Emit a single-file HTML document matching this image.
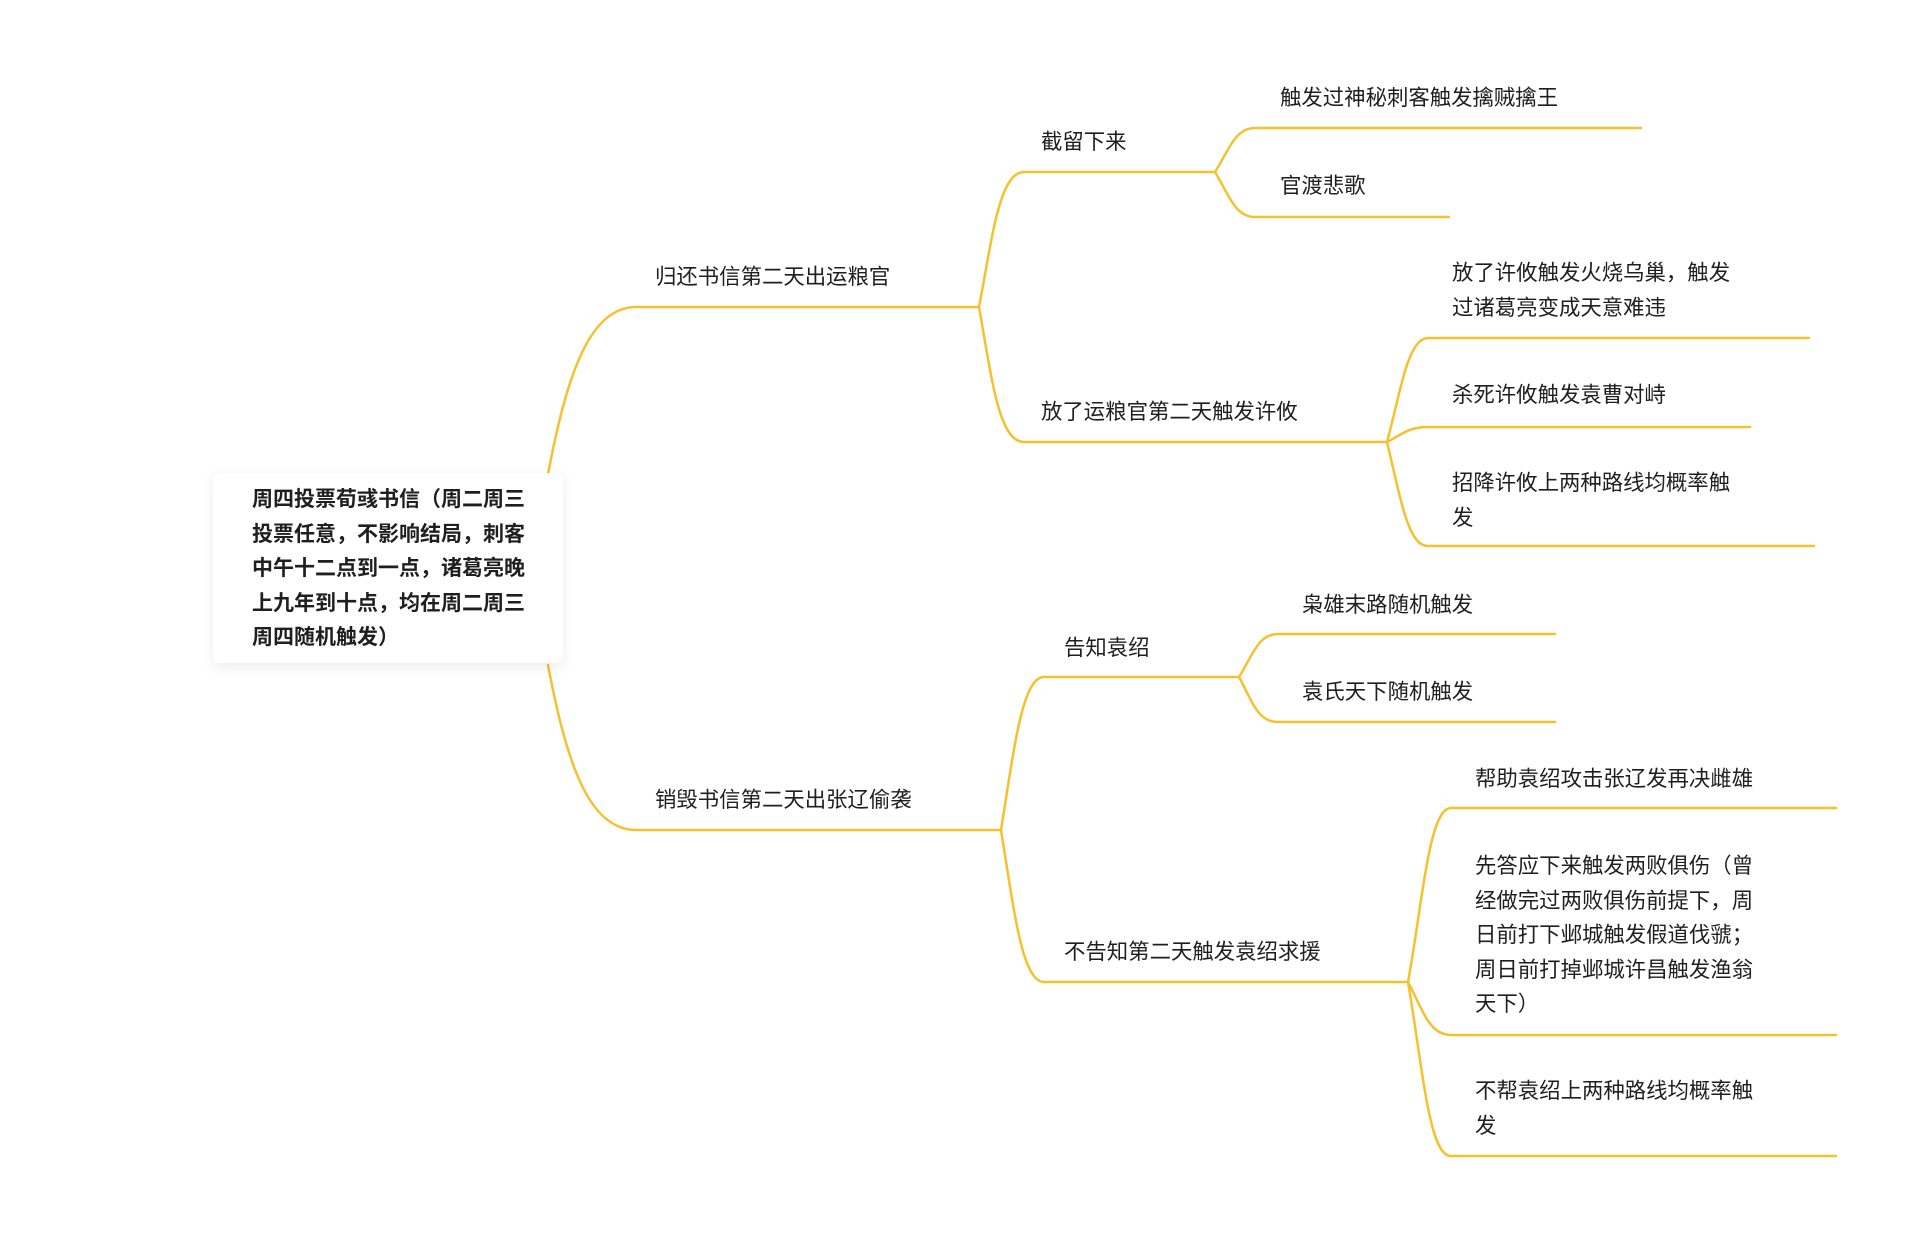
<!DOCTYPE html>
<html><head><meta charset="utf-8"><style>
html,body{margin:0;padding:0;background:#fff;}
body{width:1920px;height:1236px;position:relative;overflow:hidden;font-family:"Liberation Sans","Noto Sans CJK SC",sans-serif;color:#1f1f1f;}
.t{position:absolute;font-size:21.4px;line-height:34.5px;white-space:nowrap;}
.box{position:absolute;left:213px;top:473px;width:350px;height:190px;background:#fff;border-radius:6px;box-shadow:0 4px 14px rgba(0,0,0,0.08);}
svg{position:absolute;left:0;top:0;}
</style></head><body>
<svg width="1920" height="1236" fill="none" stroke="#F5C12E" stroke-width="2.5" stroke-linecap="round">
<path d="M548 474 C566 380 588 307 636 307 L979 307"/>
<path d="M548 665 C566 760 588 830 636 830 L1001 830"/>
<path d="M979 307 C992 240 999 172 1024 172 L1215 172"/>
<path d="M979 307 C992 380 999 442 1024 442 L1387 442"/>
<path d="M1215 172 C1229 150 1235 128 1255 128 L1641 128"/>
<path d="M1215 172 C1229 195 1235 217 1255 217 L1449 217"/>
<path d="M1387 442 C1401 390 1408 338 1428 338 L1809 338"/>
<path d="M1387 442 C1401 435 1408 427 1428 427 L1750 427"/>
<path d="M1387 442 C1401 500 1408 546 1428 546 L1814 546"/>
<path d="M1001 830 C1014 750 1022 677 1044 677 L1239 677"/>
<path d="M1001 830 C1014 910 1022 982 1044 982 L1408 982"/>
<path d="M1239 677 C1253 655 1258 634 1278 634 L1555 634"/>
<path d="M1239 677 C1253 703 1258 722 1278 722 L1555 722"/>
<path d="M1408 982 C1423 900 1429 808 1451 808 L1836 808"/>
<path d="M1408 982 C1423 1010 1429 1035 1451 1035 L1836 1035"/>
<path d="M1408 982 C1423 1070 1429 1156 1451 1156 L1836 1156"/>
</svg>
<div class="box"></div>
<div class="t" style="left:252px;top:483px;font-weight:bold;font-size:21px;">周四投票荀彧书信（周二周三<br>投票任意，不影响结局，刺客<br>中午十二点到一点，诸葛亮晚<br>上九年到十点，均在周二周三<br>周四随机触发）</div>
<div class="t" style="left:655px;top:260px;">归还书信第二天出运粮官</div>
<div class="t" style="left:655px;top:783px;">销毁书信第二天出张辽偷袭</div>
<div class="t" style="left:1041px;top:125px;">截留下来</div>
<div class="t" style="left:1041px;top:395px;">放了运粮官第二天触发许攸</div>
<div class="t" style="left:1280px;top:81px;">触发过神秘刺客触发擒贼擒王</div>
<div class="t" style="left:1280px;top:169px;">官渡悲歌</div>
<div class="t" style="left:1452px;top:256px;">放了许攸触发火烧乌巢，触发<br>过诸葛亮变成天意难违</div>
<div class="t" style="left:1452px;top:378px;">杀死许攸触发袁曹对峙</div>
<div class="t" style="left:1452px;top:466px;">招降许攸上两种路线均概率触<br>发</div>
<div class="t" style="left:1064px;top:631px;">告知袁绍</div>
<div class="t" style="left:1064px;top:935px;">不告知第二天触发袁绍求援</div>
<div class="t" style="left:1302px;top:588px;">枭雄末路随机触发</div>
<div class="t" style="left:1302px;top:675px;">袁氏天下随机触发</div>
<div class="t" style="left:1475px;top:762px;">帮助袁绍攻击张辽发再决雌雄</div>
<div class="t" style="left:1475px;top:849px;">先答应下来触发两败俱伤（曾<br>经做完过两败俱伤前提下，周<br>日前打下邺城触发假道伐虢；<br>周日前打掉邺城许昌触发渔翁<br>天下）</div>
<div class="t" style="left:1475px;top:1074px;">不帮袁绍上两种路线均概率触<br>发</div>
</body></html>
